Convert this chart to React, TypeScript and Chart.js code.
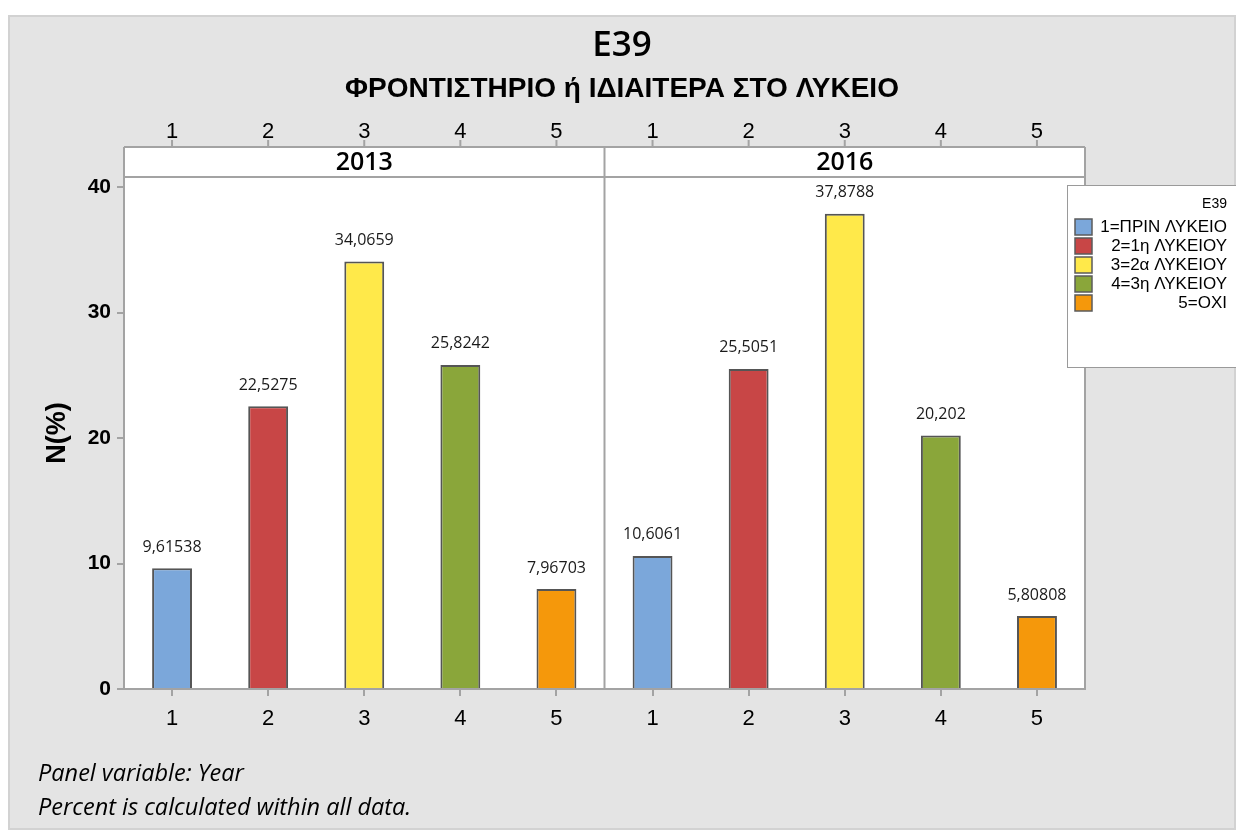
import React, { useEffect, useRef } from 'react';
import { Chart, registerables } from 'chart.js';

Chart.register(...registerables);

// ---- data ----
const categories = ['1', '2', '3', '4', '5'];
const panels = ['2013', '2016'];
const values2013 = [9.61538, 22.5275, 34.0659, 25.8242, 7.96703];
const values2016 = [10.6061, 25.5051, 37.8788, 20.202, 5.80808];
const yTicks = [0, 10, 20, 30, 40];
const barColors = ['#7ba7da', '#c84646', '#ffe94a', '#8aa63a', '#f5980b'];
const legendTitle = 'E39';
const legendLabels = ['1=ΠΡΙΝ ΛΥΚΕΙΟ', '2=1η ΛΥΚΕΙΟΥ', '3=2α ΛΥΚΕΙΟΥ', '4=3η ΛΥΚΕΙΟΥ', '5=ΟΧΙ'];
const chartTitle = 'E39';
const chartSubtitle = 'ΦΡΟΝΤΙΣΤΗΡΙΟ ή ΙΔΙΑΙΤΕΡΑ ΣΤΟ ΛΥΚΕΙΟ';
const yTitle = 'N(%)';
const footnotes = ['Panel variable: Year', 'Percent is calculated within all data.'];

const ARIAL = '"Liberation Sans", Arial, sans-serif';
const SEGOE = '"Open Sans", "Noto Sans", sans-serif';
const AXIS_GRAY = '#a3a3a3';

const fmt = (v: number) => String(v).replace('.', ',');

const decorPlugin = {
  id: 'decor',
  beforeDraw(chart: any) {
    const { ctx, chartArea: ca } = chart;
    ctx.save();
    ctx.fillStyle = '#ffffff';
    ctx.fillRect(ca.left, ca.top, ca.right - ca.left, ca.bottom - ca.top);
    ctx.fillRect(ca.left, ca.top - 30, ca.right - ca.left, 30);
    ctx.restore();
  },
  afterDatasetsDraw(chart: any) {
    const { ctx } = chart;
    const meta = chart.getDatasetMeta(0);
    const data = chart.data.datasets[0].data as number[];
    ctx.save();
    ctx.font = `16px ${SEGOE}`;
    ctx.fillStyle = '#1a1a1a';
    ctx.textAlign = 'center';
    ctx.textBaseline = 'middle';
    meta.data.forEach((bar: any, i: number) => {
      ctx.fillText(fmt(data[i]), bar.x, bar.y - 21);
    });
    ctx.restore();
  },
  afterDraw(chart: any) {
    const { ctx, chartArea: ca, width } = chart;
    const meta = chart.getDatasetMeta(0);
    const xs = meta.data.map((b: any) => b.x);
    const sep = (xs[4] + xs[5]) / 2;
    const stripTop = ca.top - 30;
    ctx.save();
    ctx.strokeStyle = AXIS_GRAY;
    ctx.lineWidth = 2;
    // chart area top/right borders, strip borders, separator
    ctx.beginPath();
    ctx.moveTo(ca.left, ca.top);
    ctx.lineTo(ca.right, ca.top);
    ctx.moveTo(ca.right, stripTop);
    ctx.lineTo(ca.right, ca.bottom);
    ctx.moveTo(ca.left, stripTop);
    ctx.lineTo(ca.right, stripTop);
    ctx.moveTo(ca.left, stripTop);
    ctx.lineTo(ca.left, ca.top);
    ctx.moveTo(sep, stripTop);
    ctx.lineTo(sep, ca.bottom);
    ctx.stroke();
    // top ticks
    ctx.beginPath();
    xs.forEach((x: number) => {
      ctx.moveTo(x, stripTop - 7);
      ctx.lineTo(x, stripTop);
    });
    ctx.stroke();
    ctx.fillStyle = '#000';
    ctx.font = `22px ${ARIAL}`;
    ctx.textAlign = 'center';
    ctx.textBaseline = 'middle';
    const labels = chart.data.labels as string[];
    xs.forEach((x: number, i: number) => ctx.fillText(labels[i], x, stripTop - 15));
    // panel headers
    ctx.font = `600 25px ${SEGOE}`;
    ctx.fillText(panels[0], (ca.left + sep) / 2, stripTop + 16);
    ctx.fillText(panels[1], (sep + ca.right) / 2, stripTop + 16);
    // titles
    ctx.font = `600 35px ${SEGOE}`;
    ctx.fillText(chartTitle, width / 2, 31);
    ctx.font = `bold 28px ${ARIAL}`;
    ctx.fillText(chartSubtitle, width / 2, 74);
    // legend
    const lx = 1059, ly = 170, lh = 182;
    ctx.fillStyle = '#ffffff';
    ctx.fillRect(lx, ly, width - lx + 10, lh);
    ctx.strokeStyle = '#9a9a9a';
    ctx.lineWidth = 1;
    ctx.strokeRect(lx + 0.5, ly + 0.5, width - lx + 10, lh);
    ctx.fillStyle = '#000';
    ctx.font = `14px ${ARIAL}`;
    ctx.textAlign = 'right';
    ctx.fillText(legendTitle, 1219, 189);
    ctx.font = `17px ${ARIAL}`;
    legendLabels.forEach((t, i) => {
      const y = 212 + i * 19;
      ctx.fillStyle = barColors[i];
      ctx.fillRect(1067, y - 8, 17, 16);
      ctx.strokeStyle = '#5b5b5b';
      ctx.lineWidth = 1.5;
      ctx.strokeRect(1067, y - 8, 17, 16);
      ctx.fillStyle = '#000';
      ctx.fillText(t, 1219, y);
    });
    // footnotes
    ctx.textAlign = 'left';
    ctx.font = `italic 23.5px ${SEGOE}`;
    ctx.fillText(footnotes[0], 30, 759);
    ctx.fillText(footnotes[1], 30, 793);
    ctx.restore();
  },
};

export default function App() {
  const ref = useRef<HTMLCanvasElement | null>(null);
  useEffect(() => {
    let chart: Chart | null = null;
    let cancelled = false;
    const fontsReady = (document as any).fonts
      ? Promise.all([
          (document as any).fonts.load(`16px "Open Sans"`),
          (document as any).fonts.load(`italic 16px "Open Sans"`),
          (document as any).fonts.load(`600 16px "Open Sans"`),
          (document as any).fonts.load(`16px "Liberation Sans"`),
          (document as any).fonts.load(`bold 16px "Liberation Sans"`),
        ]).catch(() => null)
      : Promise.resolve(null);
    fontsReady.then(() => {
      if (cancelled || !ref.current) return;
      chart = new Chart(ref.current, {
        type: 'bar',
        data: {
          labels: [...categories, ...categories],
          datasets: [
            {
              data: [...values2013, ...values2016],
              backgroundColor: [...barColors, ...barColors],
              borderColor: '#555555',
              borderWidth: 2,
              categoryPercentage: 1,
              barPercentage: 0.415,
            },
          ],
        },
        options: {
          animation: false,
          responsive: false,
          layout: { padding: { top: 162, right: 151, bottom: 96, left: 0 } },
          plugins: {
            legend: { display: false },
            tooltip: { enabled: false },
            title: { display: false },
          },
          scales: {
            x: {
              offset: true,
              grid: {
                offset: false,
                drawOnChartArea: false,
                drawTicks: true,
                tickLength: 7,
                color: AXIS_GRAY,
                lineWidth: 2,
              },
              border: { color: AXIS_GRAY, width: 2 },
              ticks: {
                font: { family: ARIAL, size: 22 },
                color: '#000',
                padding: 10,
                maxRotation: 0,
                autoSkip: false,
              },
              afterFit: (s: any) => {
                s.height = 45;
              },
            },
            y: {
              min: 0,
              max: 40.8,
              afterBuildTicks: (s: any) => {
                s.ticks = yTicks.map((v) => ({ value: v }));
              },
              grid: {
                drawOnChartArea: false,
                drawTicks: true,
                tickLength: 7,
                color: AXIS_GRAY,
                lineWidth: 2,
              },
              border: { color: AXIS_GRAY, width: 2 },
              ticks: {
                font: { family: ARIAL, size: 21, weight: 'bold' },
                color: '#000',
                padding: 6,
              },
              title: {
                display: true,
                text: yTitle,
                font: { family: ARIAL, size: 27, weight: 'bold' },
                color: '#000',
                padding: { top: 33, bottom: 0 },
              },
              afterFit: (s: any) => {
                s.width = 116;
              },
            },
          },
        },
        plugins: [decorPlugin],
      } as any);
    });
    return () => {
      cancelled = true;
      if (chart) chart.destroy();
    };
  }, []);

  return (
    <div
      style={{
        position: 'fixed',
        left: 8,
        top: 15,
        width: 1228,
        height: 815,
        background: '#e4e4e4',
        boxShadow: 'inset 0 0 0 2px #d2d2d2',
      }}
    >
      <canvas ref={ref} width={1228} height={815} style={{ display: 'block' }} />
    </div>
  );
}
